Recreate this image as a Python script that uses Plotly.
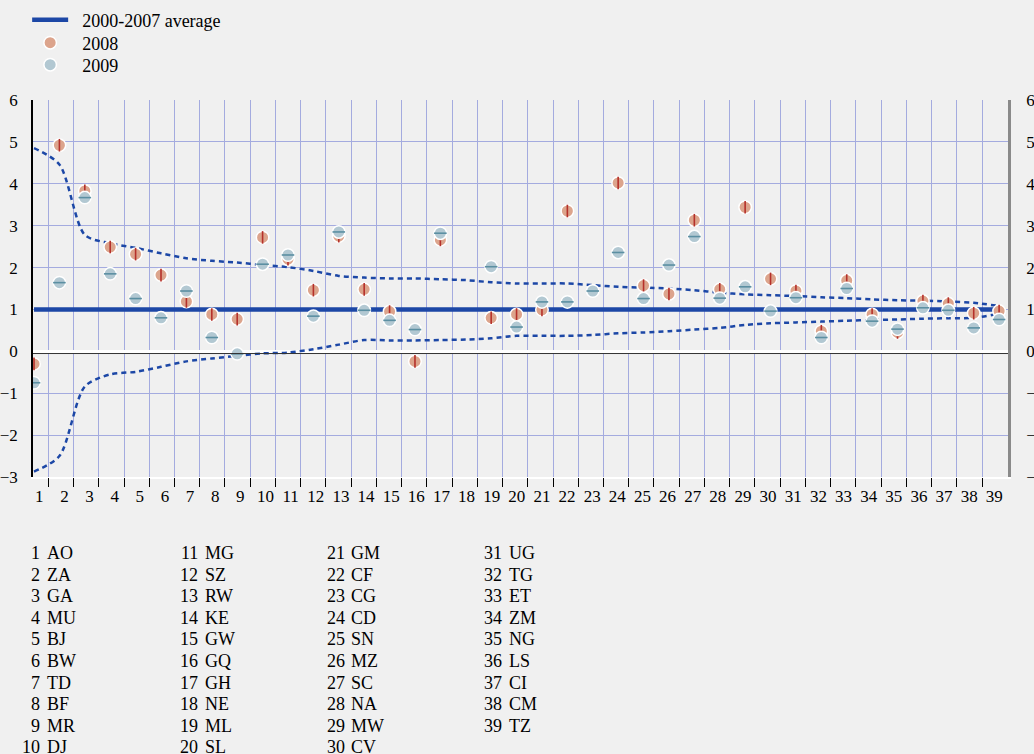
import plotly.graph_objects as go

# ---------------- data ----------------
cats = list(range(1, 40))
codes = ["AO", "ZA", "GA", "MU", "BJ", "BW", "TD", "BF", "MR", "DJ",
         "MG", "SZ", "RW", "KE", "GW", "GQ", "GH", "NE", "ML", "SL",
         "GM", "CF", "CG", "CD", "SN", "MZ", "SC", "NA", "MW", "CV",
         "UG", "TG", "ET", "ZM", "NG", "LS", "CI", "CM", "TZ"]
tick_labels = [str(c) for c in cats]

avg_2000_2007 = [1.0, 1.0, 1.0, 1.0, 1.0, 1.0, 1.0, 1.0, 1.0, 1.0,
                 1.0, 1.0, 1.0, 1.0, 1.0, 1.0, 1.0, 1.0, 1.0, 1.0,
                 1.0, 1.0, 1.0, 1.0, 1.0, 1.0, 1.0, 1.0, 1.0, 1.0,
                 1.0, 1.0, 1.0, 1.0, 1.0, 1.0, 1.0, 1.0, 1.0]

y2008 = [-0.30, 4.92, 3.83, 2.49, 2.32, 1.82, 1.19, 0.88, 0.77, 2.72,
         2.20, 1.46, 2.75, 1.48, 0.95, -0.24, 2.66, None, 0.80, 0.88,
         0.99, 3.35, None, 4.02, 1.57, 1.37, 3.13, 1.48, 3.44, 1.73,
         1.44, 0.48, 1.69, 0.88, 0.45, 1.20, 1.14, 0.91, 0.96]

y2009 = [-0.75, 1.64, 3.67, 1.85, 1.26, 0.80, 1.44, 0.33, -0.06, 2.08,
         2.30, 0.84, 2.85, 0.98, 0.74, 0.52, 2.82, None, 2.02, 0.58,
         1.18, 1.18, 1.44, 2.36, 1.26, 2.06, 2.74, 1.27, 1.54, 0.96,
         1.28, 0.33, 1.50, 0.72, 0.53, 1.04, 0.98, 0.56, 0.76]

upper_band = [4.85, 4.46, 2.78, 2.58, 2.47, 2.34, 2.22, 2.16, 2.12, 2.06,
              2.01, 1.92, 1.80, 1.76, 1.74, 1.74, 1.72, 1.70, 1.65, 1.62,
              1.62, 1.62, 1.58, 1.54, 1.52, 1.50, 1.46, 1.40, 1.36, 1.34,
              1.32, 1.29, 1.27, 1.24, 1.22, 1.21, 1.19, 1.16, 1.08]

lower_band = [-2.87, -2.50, -0.84, -0.55, -0.49, -0.37, -0.24, -0.17, -0.11, -0.05,
              -0.03, 0.05, 0.16, 0.27, 0.26, 0.26, 0.27, 0.28, 0.31, 0.37,
              0.37, 0.37, 0.39, 0.43, 0.45, 0.48, 0.52, 0.56, 0.63, 0.67,
              0.69, 0.71, 0.73, 0.75, 0.76, 0.78, 0.79, 0.80, 0.90]

series_names = ["2000-2007 average", "2008", "2009"]
grid_ticks = list(range(1, 39))
y_ticks = [-3, -2, -1, 0, 1, 2, 3, 4, 5, 6]

# ---------------- style ----------------
FONT = "Liberation Serif, Times New Roman, serif"
BLUE = "#1c47a6"
GRID = "#a4abdf"
BG = "#f0f0f0"
W, H = 1034, 754
ML, MR, MT, MB = 33, 26, 100, 277
PW = W - ML - MR
PH = H - MT - MB
PAD = "\u00a0\u00a0"


def py2paper(py):
    return (MT + PH - py) / PH


fig = go.Figure()

fig.add_trace(go.Scatter(x=cats, y=avg_2000_2007, mode="lines", name=PAD + series_names[0],
                         legend="legend", line=dict(color=BLUE, width=4.5), hoverinfo="skip"))
fig.add_trace(go.Scatter(x=cats, y=upper_band, mode="lines", showlegend=False,
                         line=dict(color=BLUE, width=2.5, dash="5px,4px", shape="spline", smoothing=0.8),
                         hoverinfo="skip"))
fig.add_trace(go.Scatter(x=cats, y=lower_band, mode="lines", showlegend=False,
                         line=dict(color=BLUE, width=2.5, dash="5px,4px", shape="spline", smoothing=0.8),
                         hoverinfo="skip"))

fig.add_trace(go.Scatter(x=cats, y=y2008, mode="markers", name=PAD + series_names[1],
                         legend="legend2", legendgroup="2008",
                         marker=dict(symbol="circle", size=12.5, color="#dca48c",
                                     line=dict(color="white", width=1.5))))
fig.add_trace(go.Scatter(x=cats, y=y2008, mode="markers", showlegend=False, legendgroup="2008",
                         legend="legend2", hoverinfo="skip",
                         marker=dict(symbol="line-ns", size=9, line=dict(color="#b5302a", width=1.6))))
fig.add_trace(go.Scatter(x=cats, y=y2009, mode="markers", name=PAD + series_names[2],
                         legend="legend3", legendgroup="2009",
                         marker=dict(symbol="circle", size=12.5, color="#b2c8d2",
                                     line=dict(color="white", width=1.5))))
fig.add_trace(go.Scatter(x=cats, y=y2009, mode="markers", showlegend=False, legendgroup="2009",
                         legend="legend3", hoverinfo="skip",
                         marker=dict(symbol="line-ew", size=9, line=dict(color="#5b8fa2", width=1.6))))

# helper invisible traces so overlay axes are drawn
fig.add_trace(go.Scatter(x=grid_ticks, y=upper_band[:38], xaxis="x2", mode="markers",
                         marker=dict(opacity=0), showlegend=False, hoverinfo="skip"))
fig.add_trace(go.Scatter(x=cats, y=upper_band, xaxis="x3", yaxis="y2", mode="markers",
                         marker=dict(opacity=0), showlegend=False, hoverinfo="skip"))

# country list annotations
code_left_px = [45.5, 203.5, 350, 507.5]
row0_px, row_step = 553, 21.6
annotations = []
for i, (n, code) in enumerate(zip(cats, codes)):
    col, row = divmod(i, 10)
    yp = py2paper(row0_px + row * row_step)
    xc = (code_left_px[col] - ML) / PW
    xn = (code_left_px[col] - 4.5 - ML) / PW
    annotations.append(dict(x=xn, y=yp, xref="paper", yref="paper", text=str(n),
                            showarrow=False, xanchor="right", yanchor="middle",
                            font=dict(family=FONT, size=18, color="black"), borderpad=0))
    annotations.append(dict(x=xc, y=yp, xref="paper", yref="paper", text=code,
                            showarrow=False, xanchor="left", yanchor="middle",
                            font=dict(family=FONT, size=18, color="black"), borderpad=0))

shapes = [
    dict(type="line", xref="paper", x0=0, x1=1, yref="y", ysizemode="pixel", yanchor=0,
         y0=-2.2, y1=-2.2, line=dict(color="#333333", width=1)),
    dict(type="line", xref="paper", x0=0, x1=1, yref="y", ysizemode="pixel", yanchor=-3,
         y0=-4.5, y1=-4.5, line=dict(color="black", width=1.2)),
]


def leg(center_py):
    return dict(x=-0.006, y=py2paper(center_py), xanchor="left", yanchor="middle",
                bgcolor="rgba(0,0,0,0)", font=dict(family=FONT, size=18, color="black"),
                itemwidth=36, tracegroupgap=0)


fig.update_layout(
    width=W, height=H,
    margin=dict(l=ML, r=MR, t=MT, b=MB, pad=0, autoexpand=False),
    paper_bgcolor=BG, plot_bgcolor=BG,
    font=dict(family=FONT, size=17, color="black"),
    showlegend=True,
    legend=leg(20),
    legend2=leg(43),
    legend3=leg(65),
    xaxis=dict(range=[0.96, 39.35], showgrid=False, zeroline=False,
               showticklabels=False, ticks="", showline=True, linecolor="white", linewidth=2),
    xaxis2=dict(overlaying="x", range=[0.394, 39.03], tickvals=grid_ticks,
                showgrid=True, gridcolor=GRID, gridwidth=1, zeroline=False,
                showticklabels=False, ticks="outside", ticklen=9, tickcolor="black",
                tickwidth=1, showline=False),
    xaxis3=dict(overlaying="x", range=[0.749, 39.545], tickvals=cats, ticktext=tick_labels,
                showgrid=False, zeroline=False, ticks="", showline=False,
                ticklabelstandoff=7, tickfont=dict(family=FONT, size=17)),
    yaxis=dict(range=[-3, 6], tickvals=y_ticks, showgrid=True, gridcolor=GRID, gridwidth=1,
               zeroline=True, zerolinecolor="white", zerolinewidth=2.5,
               showline=True, linecolor="black", linewidth=1.5, ticks="",
               ticklabelstandoff=10, tickfont=dict(family=FONT, size=17)),
    yaxis2=dict(overlaying="y", side="right", range=[-3, 6], tickvals=y_ticks,
                showgrid=False, zeroline=False, showline=True, linecolor="#8a8a8a",
                linewidth=2.5, ticks="", ticklabelstandoff=12,
                tickfont=dict(family=FONT, size=17)),
    annotations=annotations,
    shapes=shapes,
)

fig.write_html("out.html", config={"displayModeBar": False},
               post_script="document.body.style.margin='0';document.body.style.background='#f0f0f0';")
